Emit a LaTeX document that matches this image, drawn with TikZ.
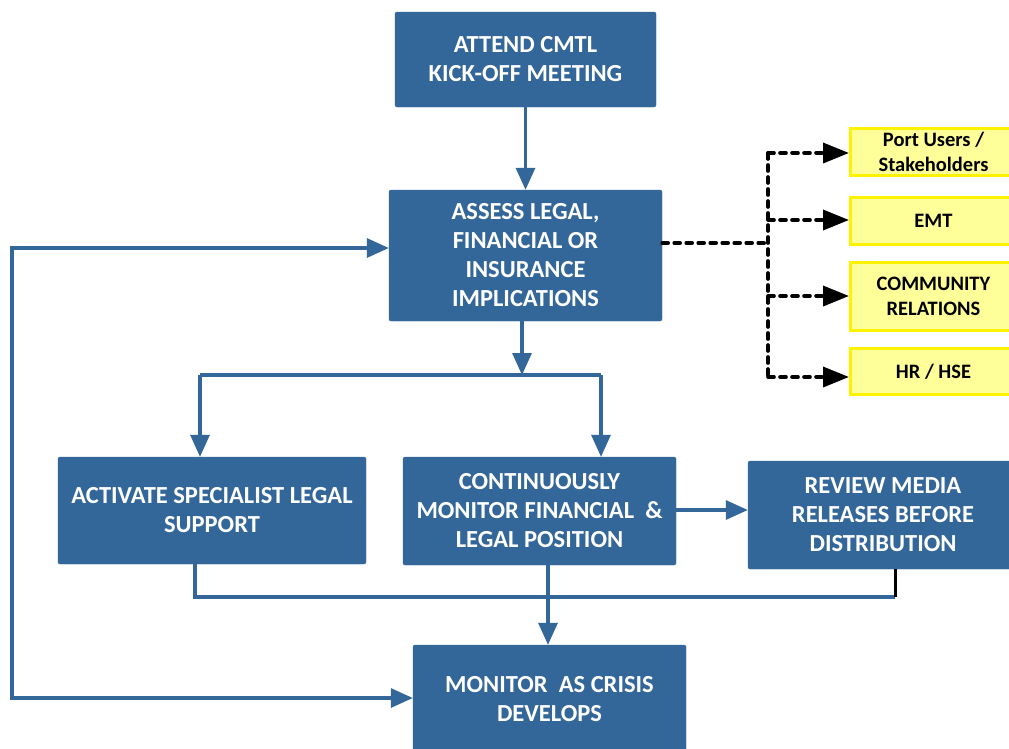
\documentclass[tikz,border=0pt]{standalone}
\usepackage{fontspec}
\setmainfont{Carlito}
\usetikzlibrary{arrows.meta}
\definecolor{boxblue}{RGB}{52,103,153}
\definecolor{paleyellow}{RGB}{255,255,153}
\definecolor{brightyellow}{RGB}{255,242,0}
\begin{document}
\begin{tikzpicture}[x=1pt,y=-1pt,
  stepbox/.style={fill=boxblue, draw=boxblue, rounded corners=2pt, text=white,
    font=\fontsize{24.5}{29}\selectfont\bfseries, align=center, inner sep=0pt},
  notebox/.style={fill=paleyellow, draw=brightyellow, line width=3pt, minimum width=166pt,
    font=\fontsize{20.5}{24.5}\selectfont\bfseries, align=center, inner sep=0pt},
  conn/.style={draw=boxblue, line width=3.2pt},
  flow/.style={conn, -{Triangle[length=22pt,width=19pt]}},
  twoway/.style={conn, {Triangle[length=22pt,width=19pt]}-{Triangle[length=22pt,width=19pt]}},
  dashlink/.style={draw=black, line width=3.6pt, dash pattern=on 6pt off 6pt, line cap=round},
  dasharrow/.style={dashlink, -{Triangle[length=26pt,width=20pt,line cap=butt]}}]
\clip (0,0) rectangle (1009,748);
\fill[white] (0,0) rectangle (1009,748);

% process steps
\node[stepbox, minimum width=261pt, minimum height=95pt] (attend) at (525.5,59.5)
  {ATTEND CMTL\\KICK-OFF MEETING};
\node[stepbox, minimum width=273pt, minimum height=131pt] (assess) at (525.5,255.5)
  {ASSESS LEGAL,\\FINANCIAL OR\\INSURANCE\\IMPLICATIONS};
\node[stepbox, minimum width=308pt, minimum height=107pt] (activate) at (212,510.5)
  {ACTIVATE SPECIALIST LEGAL\\SUPPORT};
\node[stepbox, minimum width=273pt, minimum height=108pt] (cont) at (539.5,511)
  {CONTINUOUSLY\\MONITOR FINANCIAL\ \ \&\\LEGAL POSITION};
\node[stepbox, minimum width=270pt, minimum height=108pt] (review) at (883,515)
  {REVIEW MEDIA\\RELEASES BEFORE\\DISTRIBUTION};
\node[stepbox, minimum width=273pt, minimum height=108pt] (monitor) at (549.5,699)
  {MONITOR\ \ AS CRISIS\\DEVELOPS};

% stakeholders to inform
\node[notebox, minimum height=47pt] (port) at (933.5,152) {Port Users /\\Stakeholders};
\node[notebox, minimum height=47pt] (emt) at (933.5,221) {EMT};
\node[notebox, minimum height=68pt] (comm) at (933.5,296.5) {COMMUNITY\\RELATIONS};
\node[notebox, minimum height=46pt] (hr) at (933.5,371.5) {HR / HSE};

% main flow
\draw[flow] (attend.south) -- (assess.north);

\coordinate (split) at (522,375);
\coordinate (splitL) at (200,375);
\coordinate (splitR) at (601,375);
\draw[flow] (assess.south -| split) -- (split);
\draw[conn] (splitL) -- (splitR);
\draw[flow] (splitL) -- (activate.north -| splitL);
\draw[flow] (splitR) -- (cont.north -| splitR);

\coordinate (rv) at (0,510);
\draw[flow] (cont.east |- rv) -- (review.west |- rv);

% merge towards crisis monitoring
\coordinate (mergeL) at (195,597);
\coordinate (mergeC) at (548,597);
\coordinate (mergeR) at (895,597);
\draw[conn] (activate.south -| mergeL) -- (mergeL) -- (mergeR);
\draw[draw=black, line width=3pt] (review.south -| mergeR) -- (mergeR);
\draw[flow] (cont.south -| mergeC) -- (monitor.north -| mergeC);

% feedback loop
\coordinate (fbTop) at (12,248);
\coordinate (fbBot) at (12,698);
\draw[twoway] (assess.west |- fbTop) -- (fbTop) -- (fbBot) -- (monitor.west |- fbBot);

% dashed distribution to stakeholders
\coordinate (dsrc) at (0,243);
\coordinate (bus) at (768,243);
\coordinate (busTop) at (768,153);
\coordinate (busEmt) at (768,220);
\coordinate (busComm) at (768,296);
\coordinate (busBot) at (768,377);
\draw[dashlink] (assess.east |- dsrc) -- (bus);
\draw[dashlink] (busTop) -- (busBot);
\draw[dasharrow] (busTop) -- (port.west |- busTop);
\draw[dasharrow] (busEmt) -- (emt.west |- busEmt);
\draw[dasharrow] (busComm) -- (comm.west |- busComm);
\draw[dasharrow] (busBot) -- (hr.west |- busBot);
\end{tikzpicture}
\end{document}
